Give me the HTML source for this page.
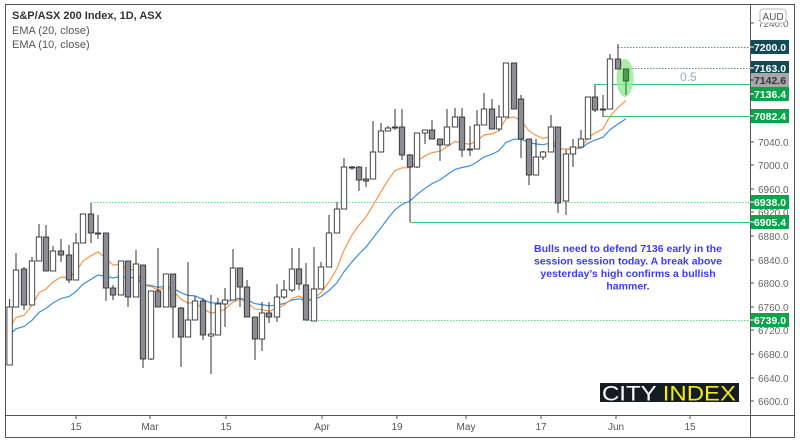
<!DOCTYPE html>
<html><head><meta charset="utf-8"><style>
html,body{margin:0;padding:0;background:#fff;width:800px;height:445px;overflow:hidden}
svg{display:block}
text{font-family:"Liberation Sans",sans-serif}
</style></head><body>
<svg id="c" width="800" height="445" xmlns="http://www.w3.org/2000/svg">
<rect x="0" y="0" width="800" height="445" fill="#fff"/>
<rect x="5.5" y="4.5" width="789" height="433" fill="none" stroke="#555" stroke-width="1"/>
<line x1="750.5" y1="4" x2="750.5" y2="438" stroke="#555"/>
<line x1="5" y1="415.5" x2="795" y2="415.5" stroke="#555"/>
<g id="g"></g>
</svg>
<script>
var g=document.getElementById('g'),s='';
var C=[[9.6,307,365,299,365,0],[16,270,307,253,307,0],[24,269,305,267,310,1],[32,261,305,257,305,0],[39,237,261,224,261,0],[46,237,271,225,271,1],[53,251,271,246,271,0],[61,251,255,239,262,1],[69,255,280,245,283,1],[76,243,280,233,280,0],[83,214,243,214,243,0],[91,214,233,203,243,1],[98,233,234,215,239,1],[106,233,288,233,301,1],[113,288,295,285,300,1],[121,261,295,261,295,0],[128,261,297,261,307,1],[136,264,297,250,297,0],[143,265,359,265,368,1],[151,291,359,291,360,0],[158,291,307,248,307,1],[166,274,307,274,307,0],[173,274,307,274,338,1],[181,308,337,307,367,1],[188,320,337,262,337,0],[195,301,320,296,320,0],[203,301,335,298,340,1],[211,334,336,295,374,0],[218,304,335,298,335,0],[225,300,304,288,327,0],[233,268,300,249,300,0],[240,268,287,268,307,1],[247,287,317,280,317,1],[255,317,339,317,360,1],[262,313,339,302,351,0],[269,313,317,302,323,1],[277,297,317,284,322,0],[284,290,297,280,299,0],[292,269,290,248,292,0],[299,269,284,248,290,1],[306,285,320,263,320,1],[314,289,321,247,321,0],[321,267,289,262,289,0],[329,233,267,215,267,0],[337,209,233,202,233,0],[344,167,209,158,209,0],[352,167,168,166,170,1],[359,167,180,166,191,1],[366,179,181,167,187,1],[373,152,179,121,179,0],[381,131,152,123,152,0],[388,128,131,126,131,0],[395,127,128,109,130,1],[402,127,155,109,160,1],[410,155,167,154,222,1],[417,133,167,133,168,0],[425,130,133,130,144,0],[432,130,139,120,139,1],[440,139,145,139,161,1],[447,127,145,109,145,0],[455,117,127,108,127,0],[462,117,150,108,157,1],[470,149,150,126,156,1],[477,125,149,110,149,0],[484,109,125,93,125,0],[492,109,129,99,129,1],[499,117,129,105,131,0],[506,63,117,63,117,0],[514,63,109,63,109,1],[521,99,139,95,158,1],[529,139,175,139,185,1],[536,157,175,139,175,0],[543,152,157,151,160,0],[551,127,152,115,152,0],[558,127,203,127,213,1],[566,154,201,150,215,0],[573,147,154,139,167,0],[581,139,147,130,147,0],[588,97,139,97,139,0],[595,97,110,84,112,1],[603,109,110,95,117,1],[610,59,109,54,109,0],[618,59,69,44,69,1],[626,69,81,69,95,2]];
var e10=328,e20=335,p10=[],p20=[];
C.forEach(function(c,i){var cl=c[5]?c[2]:c[1];if(c[5]==2)cl=c[1];
 if(i>0){e10+= (cl-e10)*2/11; e20+=(cl-e20)*2/21;}
 p10.push(c[0].toFixed(1)+','+e10.toFixed(1));p20.push(c[0].toFixed(1)+','+e20.toFixed(1));});
function ln(x1,y,x2,col,dash){s+='<line x1="'+x1+'" y1="'+y+'" x2="'+x2+'" y2="'+y+'" stroke="'+col+'" stroke-width="1" '+(dash?'stroke-dasharray="1.5,1.5"':'')+'/>';}
ln(618,47.5,750,'#6a8a95',1);ln(626,68.5,750,'#6a8a95',1);
ln(596,84.5,750,'#2ecc71',0);
ln(603,116.5,750,'#2ecc71',0);
ln(91,202.5,750,'#55dd88',1);
ln(410,222.5,750,'#2ecc71',0);
s+='<line x1="410" y1="160" x2="410" y2="222" stroke="#444"/>';
ln(306,320.5,750,'#55dd88',1);
s+='<text x="680" y="81" font-size="12" fill="#9ab" >0.5</text>';
s+='<ellipse cx="625" cy="78" rx="8.5" ry="19" fill="#8fe68f" opacity="0.75"/>';
s+='<polyline points="'+p20.join(' ')+'" fill="none" stroke="#3d8fe0" stroke-width="1.2"/>';
s+='<polyline points="'+p10.join(' ')+'" fill="none" stroke="#f5964a" stroke-width="1.2"/>';
C.forEach(function(c){
 var col=c[5]==2?'#2a6a2a':'#333';
 s+='<line x1="'+c[0]+'" y1="'+c[3]+'" x2="'+c[0]+'" y2="'+c[4]+'" stroke="'+col+'" stroke-width="1"/>';
 var f=c[5]==1?'#8c8c94':(c[5]==2?'#4f9a4f':'#fff');
 s+='<rect x="'+(c[0]-2.7)+'" y="'+c[1]+'" width="5.4" height="'+Math.max(1,c[2]-c[1])+'" fill="'+f+'" stroke="'+col+'" stroke-width="0.9"/>';
});
[[7240,23],[7040,142],[7000,165],[6960,189],[6920,212],[6880,236],[6840,260],[6800,283],[6760,307],[6720,330],[6680,354],[6640,378],[6600,401]].forEach(function(t){
 s+='<line x1="750" y1="'+t[1]+'" x2="754" y2="'+t[1]+'" stroke="#555"/><text x="758" y="'+(t[1]+4)+'" font-size="10" fill="#666">'+t[0]+'.0</text>';});
s+='<rect x="760" y="9" width="26" height="14" rx="3" fill="#fff" stroke="#bbb"/><text x="773" y="20" font-size="10" fill="#555" text-anchor="middle">AUD</text>';
function lab(y,txt,bg,fg){s+='<rect x="751" y="'+(y-7)+'" width="38" height="14" fill="'+bg+'"/><line x1="750" y1="'+y+'" x2="754" y2="'+y+'" stroke="'+fg+'"/><text x="770" y="'+(y+4)+'" font-size="10.5" font-weight="bold" fill="'+fg+'" text-anchor="middle">'+txt+'</text>';}
lab(47,'7200.0','#134a58','#fff');lab(68,'7163.0','#134a58','#fff');lab(80,'7142.6','#a8a8a8','#333');lab(94,'7136.4','#0aa44a','#fff');
lab(116,'7082.4','#0aa44a','#fff');lab(202,'6938.0','#0aa44a','#fff');lab(222,'6905.4','#0aa44a','#fff');lab(320,'6739.0','#0aa44a','#fff');
[[76,'15'],[150,'Mar'],[226,'15'],[322,'Apr'],[397,'19'],[466,'May'],[541,'17'],[616,'Jun'],[690,'15']].forEach(function(d){
 s+='<line x1="'+d[0]+'" y1="415" x2="'+d[0]+'" y2="419" stroke="#555"/><text x="'+d[0]+'" y="430" font-size="10" fill="#555" text-anchor="middle">'+d[1]+'</text>';});
s+='<text x="12" y="19" font-size="11" font-weight="bold" fill="#333">S&amp;P/ASX 200 Index, 1D, ASX</text>';
s+='<text x="12" y="34" font-size="11" fill="#555">EMA (20, close)</text><text x="12" y="48" font-size="11" fill="#555">EMA (10, close)</text>';
['Bulls need to defend 7136 early in the','session session today. A break above','yesterday\u2019s high confirms a bullish','hammer.'].forEach(function(t,i){
 s+='<text x="628" y="'+(252+i*12.5)+'" font-size="10.5" font-weight="bold" fill="#3a3aff" text-anchor="middle">'+t+'</text>';});
s+='<rect x="600" y="383" width="139" height="19" fill="#141c24"/><text x="602" y="400.5" font-size="21" fill="#fff" textLength="134" lengthAdjust="spacingAndGlyphs">CITY <tspan fill="#f5ea14">INDEX</tspan></text>';
g.innerHTML=s;
</script>
</body></html>
